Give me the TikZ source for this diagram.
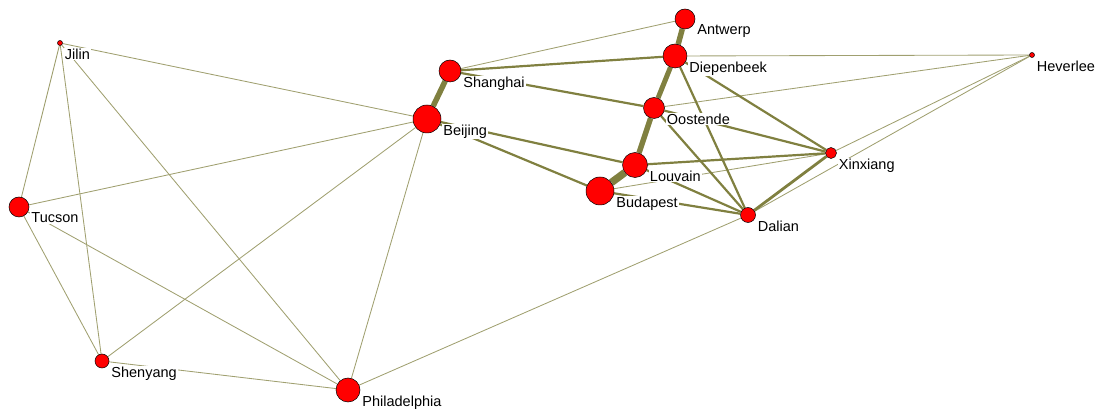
\documentclass[tikz,border=0pt]{standalone}
\usepackage{fontspec}
\setmainfont{Liberation Sans}
\usepackage{tikz}
\usetikzlibrary{backgrounds}

\definecolor{olivetie}{RGB}{128,128,64}

\begin{document}
\begin{tikzpicture}[x=1pt, y=-1pt,
city/.style={circle, draw=black, fill=red, inner sep=0pt, line width=0.5pt},
place/.style={anchor=north west, fill=white, inner sep=1pt, xshift=1pt, yshift=-4.5pt,
  font=\fontsize{14.5}{16}\selectfont},
tie/.style={draw=olivetie!75, line width=0.85pt},
midtie/.style={draw=olivetie, line width=2.2pt},
fattie/.style={draw=olivetie, line width=5.5pt}]

%% fix the page
\useasboundingbox (0,0) rectangle (1098,411);

%% place all cities: name / x / y / diameter
\foreach \n/\x/\y/\d in {Antwerp/685/19/20, Diepenbeek/675/56/24, Shanghai/450/71/22,
      Oostende/654/108/21, Beijing/427/119/28, Louvain/635/165/25, Budapest/600/191/28,
      Xinxiang/831/153/11, Dalian/748/215/15, Heverlee/1032/55/5, Jilin/60/43/5,
      Tucson/19/207/20, Shenyang/102/361/14, Philadelphia/348/390/24}
      \node[city, minimum size=\d pt, label={[place]east:\n}] (\n) at (\x,\y) {};

\begin{pgfonlayer}{background}
%% weak ties
\foreach \a/\b in {Jilin/Beijing, Jilin/Tucson, Jilin/Shenyang, Jilin/Philadelphia,
      Tucson/Beijing, Tucson/Shenyang, Tucson/Philadelphia, Shenyang/Beijing,
      Shenyang/Philadelphia, Philadelphia/Beijing, Philadelphia/Dalian,
      Shanghai/Antwerp, Diepenbeek/Heverlee, Oostende/Heverlee, Budapest/Xinxiang,
      Xinxiang/Heverlee, Dalian/Heverlee}
      \draw[tie] (\a) -- (\b);

%% medium ties
\foreach \a/\b in {Beijing/Louvain, Beijing/Budapest, Shanghai/Diepenbeek,
      Shanghai/Oostende, Diepenbeek/Xinxiang, Diepenbeek/Dalian, Oostende/Xinxiang,
      Oostende/Dalian, Louvain/Xinxiang, Louvain/Dalian, Budapest/Dalian}
      \draw[midtie] (\a) -- (\b);
\draw[midtie, line width=2.8pt] (Xinxiang) -- (Dalian);

%% strong ties
\draw[fattie] (Beijing) -- (Shanghai);
\draw[fattie] (Antwerp) -- (Diepenbeek);
\draw[fattie, line width=5pt] (Diepenbeek) -- (Oostende);
\draw[fattie] (Oostende) -- (Louvain);
\draw[fattie, line width=7.5pt] (Louvain) -- (Budapest);
\end{pgfonlayer}

\end{tikzpicture}
\end{document}
